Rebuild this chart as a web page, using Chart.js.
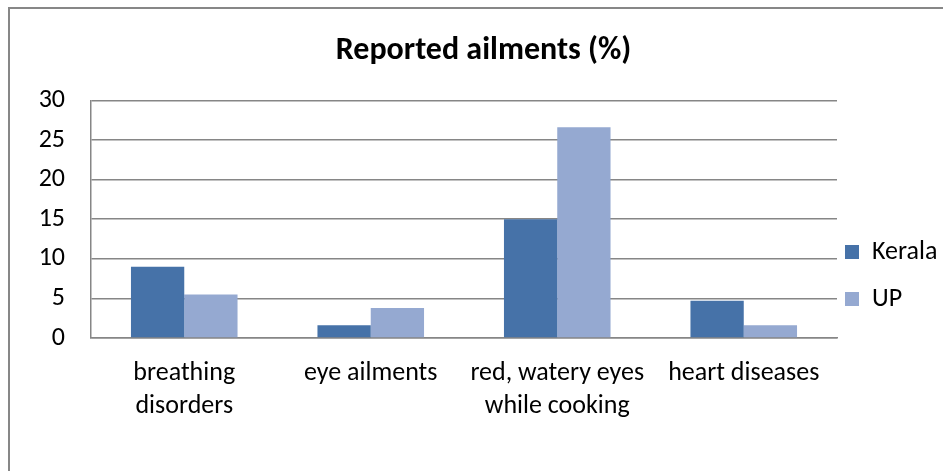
<!DOCTYPE html>
<html>
<head>
<meta charset="utf-8">
<script src="https://cdn.jsdelivr.net/npm/chart.js@4.4.1/dist/chart.umd.min.js"></script>
<style>
  html, body { margin: 0; padding: 0; background: #fff; overflow: hidden; }
  #wrap { position: absolute; left: 0; top: 0; width: 943px; height: 471px; }
  #frame { position: absolute; left: 8px; top: 7px; width: 1000px; height: 1000px; border: 2px solid #878787; box-sizing: border-box; pointer-events: none; }
</style>
</head>
<body>
<div id="wrap">
  <div id="frame"></div>
  <canvas id="c" width="943" height="471"></canvas>
</div>
<script>
// ---- data ----
const categories = [["breathing", "disorders"], "eye ailments", ["red, watery eyes", "while cooking"], "heart diseases"];
const seriesNames = ["Kerala", "UP"];
const keralaValues = [9.0, 1.6, 15.0, 4.7];
const upValues = [5.5, 3.8, 26.6, 1.6];
const yTicks = [0, 5, 10, 15, 20, 25, 30];

const FONT = "Carlito, Lato, sans-serif";

const legendTweak = {
  id: 'legendTweak',
  beforeLayout(chart) {
    const lg = chart.legend;
    if (!lg || lg._tweaked) return;
    lg._tweaked = true;
    const origFit = lg.fit;
    lg.fit = function() { origFit.call(this); this.width = 106; };
    const origDraw = lg.draw;
    lg.draw = function() {
      const l = this.left, t = this.top, b = this.bottom;
      this.left = l - 13; this.top = t + 52; this.bottom = b + 52;
      origDraw.call(this);
      this.left = l; this.top = t; this.bottom = b;
    };
  }
};

new Chart(document.getElementById('c'), {
  type: 'bar',
  data: {
    labels: categories,
    datasets: [
      { label: seriesNames[0], data: keralaValues, backgroundColor: '#4672A8' },
      { label: seriesNames[1], data: upValues, backgroundColor: '#95A9D1' }
    ]
  },
  options: {
    responsive: false,
    animation: false,
    layout: { padding: { left: 24, right: 0, top: 0, bottom: 24 } },
    datasets: { bar: { categoryPercentage: 2 / 3.5, barPercentage: 1.0 } },
    plugins: {
      title: {
        display: true,
        text: 'Reported ailments (%)',
        color: '#000',
        font: { family: FONT, size: 32, weight: 'bold', lineHeight: 1.2 },
        padding: { top: 32, bottom: 30 }
      },
      legend: {
        position: 'right',
        align: 'center',
        labels: {
          color: '#000',
          font: { family: FONT, size: 26 },
          boxWidth: 14,
          boxHeight: 14,
          padding: 21
        }
      },
      tooltip: { enabled: false }
    },
    scales: {
      x: {
        grid: { display: false, drawTicks: false },
        border: { display: true, color: '#868686', width: 1.5 },
        ticks: { color: '#000', font: { family: FONT, size: 26, lineHeight: 1.27 }, padding: 19, maxRotation: 0, autoSkip: false },
        afterFit(scale) { scale.height = 471 - 24 - 338; }
      },
      y: {
        min: 0, max: 30,
        afterBuildTicks(scale) { scale.ticks = yTicks.map(v => ({ value: v })); },
        grid: { color: '#868686', lineWidth: 1.5, drawTicks: false },
        border: { display: true, color: '#868686', width: 1.5 },
        ticks: { color: '#000', font: { family: FONT, size: 26 }, padding: 26 },
        afterFit(scale) { scale.width = 91 - 24; }
      }
    }
  },
  plugins: [legendTweak]
});
</script>
</body>
</html>
